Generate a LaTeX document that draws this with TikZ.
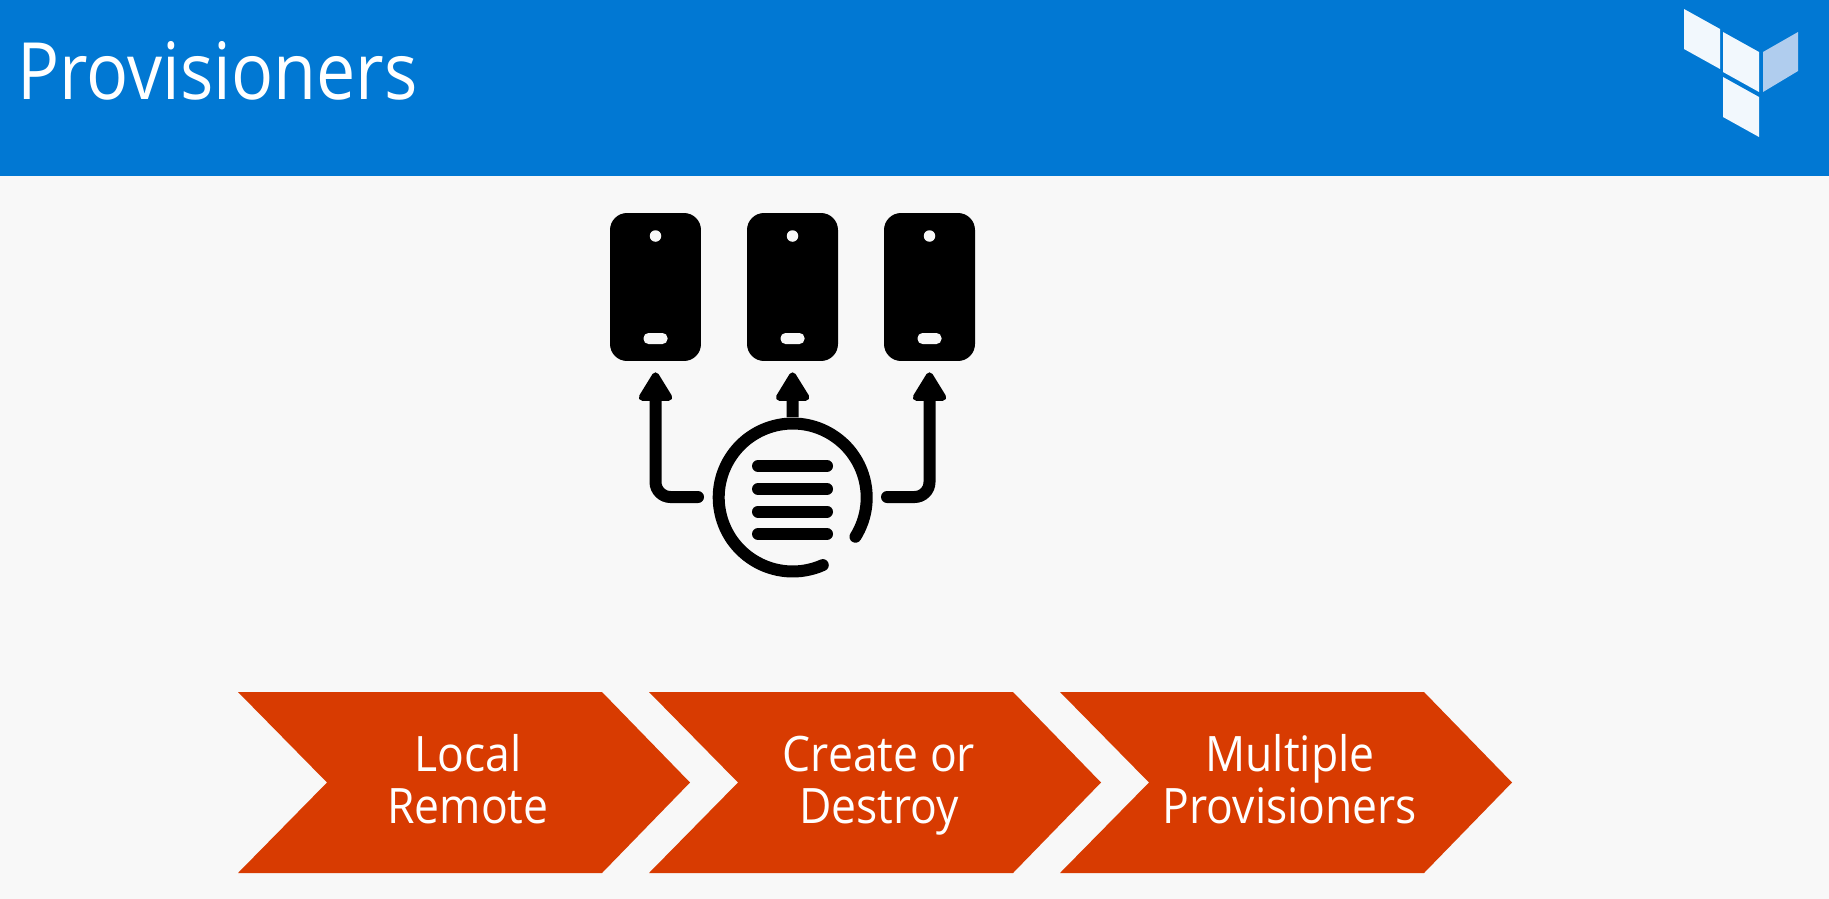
\documentclass[tikz,border=0pt]{standalone}
\usepackage{fontspec}
\setmainfont[FakeStretch=0.91]{Open Sans}
\newfontfamily\titlefont[FakeStretch=0.885]{Open Sans}
\usepackage{xcolor}
\usetikzlibrary{arrows.meta,positioning,calc}
\definecolor{headerblue}{RGB}{1,120,211}
\definecolor{pagegrey}{RGB}{248,248,248}
\definecolor{chevronred}{RGB}{216,59,1}
\definecolor{logolight}{RGB}{176,205,238}
\tikzset{
  phonebox/.style={fill=black,rounded corners=0.34cm,minimum width=1.82cm,minimum height=2.96cm,inner sep=0pt},
  connector/.style={line width=0.24cm,line cap=round,rounded corners=0.3cm,-{Triangle[length=0.64cm,width=0.74cm,round,line width=0.14cm]},shorten >=0.22cm},
  steplabel/.style={white,align=center,inner sep=0pt,font=\fontsize{27.8}{29.8}\selectfont},
}
\begin{document}
\begin{tikzpicture}[x=0.02cm,y=-0.02cm]
        % Page and header band
        \fill[pagegrey] (0,0) rectangle (1829,899);
        \fill[headerblue] (0,0) rectangle (1829,176);
        \node[white,anchor=base west,inner sep=0pt,font=\titlefont\fontsize{45}{54}\selectfont] (title) at (17,99) {Provisioners};

        % Logo
        \fill[white!95!headerblue] (1684,9) -- (1720,29) -- (1720,69) -- (1684,49) -- cycle;
        \fill[white!95!headerblue] (1723,32) -- (1759,52) -- (1759,92) -- (1723,72) -- cycle;
        \fill[white!95!headerblue] (1723,77) -- (1759,97) -- (1759,137) -- (1723,117) -- cycle;
        \fill[logolight] (1763,52) -- (1798,32) -- (1798,71) -- (1763,92) -- cycle;

        % Phones
        \foreach \i/\x in {1/655.5,2/792.5,3/929.5} {
            \node[phonebox] (phone\i) at (\x,287) {};
            \fill[pagegrey] (\x,236) circle (0.115cm);
            \fill[pagegrey,rounded corners=0.1cm] (\x-12,333) rectangle (\x+12,344);
        }

        % Hub with its list
        \node[circle,minimum size=3.2cm,inner sep=0pt] (hub) at (792.7,497.5) {};
        \draw[line width=0.24cm,line cap=round] ($(hub.center)+(-32:1.48cm)$) arc[start angle=-32,end angle=294,radius=1.48cm];
        \foreach \y in {466,489,511.5,534} {
            \draw[line width=0.24cm,line cap=round] (758,\y) -- (827,\y);
        }

        % Arrows up to the phones
        \coordinate (hubleft) at (698,497);
        \coordinate (hubright) at (887,497);
        \draw[connector] (hubleft) -| (phone1.south);
        \draw[connector,line cap=butt] (hub.north) -- (phone2.south);
        \draw[connector] (hubright) -| (phone3.south);

        % Chevrons
        \foreach \i/\dx/\label in {1/0/{Local\strut\\Remote\strut},2/411/{Create or\strut\\Destroy\strut},3/822/{Multiple\strut\\Provisioners\strut}} {
            \fill[chevronred] (238+\dx,692) -- (602+\dx,692) -- (690+\dx,782.5) -- (602+\dx,873) -- (238+\dx,873) -- (327+\dx,782.5) -- cycle;
            \node[steplabel] (step\i) at (468+\dx,787) {\label};
        }
    \end{tikzpicture}
\end{document}
